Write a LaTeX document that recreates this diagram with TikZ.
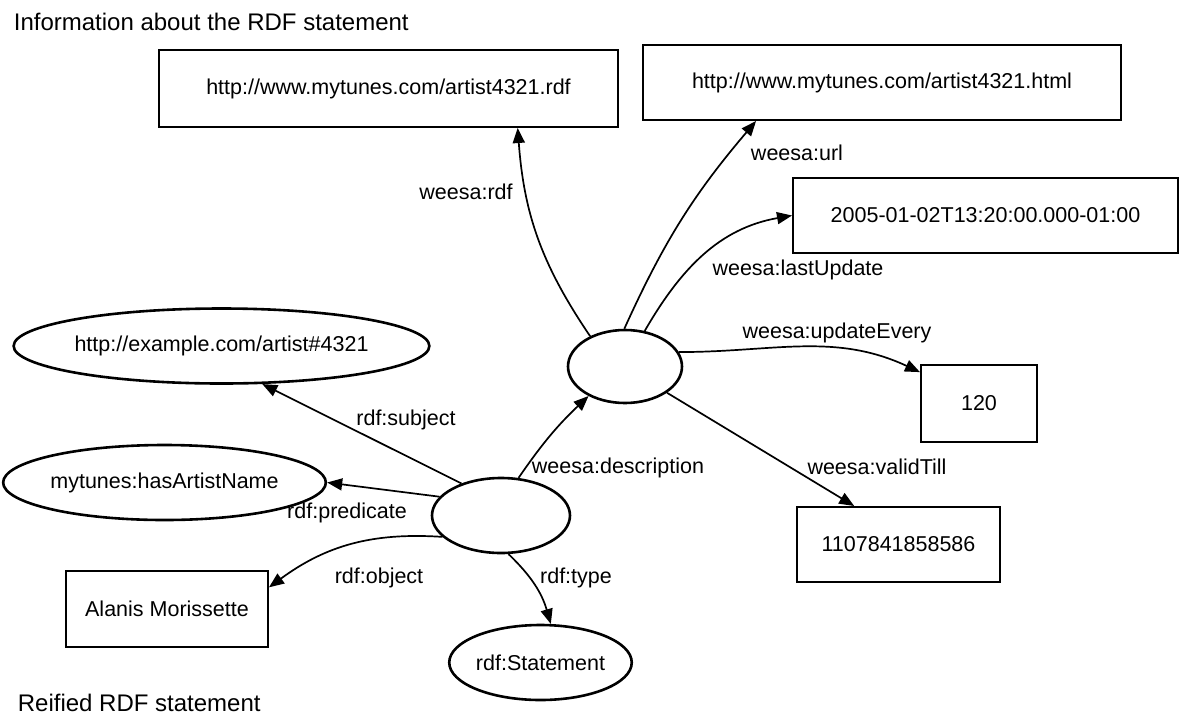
\documentclass[tikz,border=0pt]{standalone}
\usepackage{fontspec}
\setmainfont{Liberation Sans}
\usepackage{tikz}
\usetikzlibrary{positioning}
\usetikzlibrary{arrows.meta}
\usetikzlibrary{shapes.geometric}
\tikzset{
  box/.style      = { rectangle, inner sep=0pt },
  border/.style   = { line width=1pt, draw=black },
  oval/.style     = { ellipse, inner sep=0pt, line width=1.3pt, draw=black },
  small/.style    = { font=\fontsize{10.75}{12}\selectfont },
}
\tikzset{
  literal/.style  = { box, border, small },
  resource/.style = { oval, small },
  blank/.style    = { oval },
  property/.style = { small, inner sep=0pt },
  caption/.style  = { font=\fontsize{12}{14}\selectfont, inner sep=0pt, anchor=west },
}
\begin{document}
\begin{tikzpicture}[
  x=0.5pt,y=-0.5pt,
  >={Triangle[length=7.5pt,width=6pt]},line width=0.85pt
]
  \useasboundingbox (0,0) rectangle (1180,719);

  \node (info)    [caption] at (13,22)  {Information about the RDF statement};
  \node (reified) [caption] at (17,703) {Reified RDF statement};

  % information about the statement
  \node (rdf)     [literal,minimum width=229.5pt,minimum height=38.5pt] at (388.5,88.5) {http://www.mytunes.com/artist4321.rdf};
  \node (html)    [literal,minimum width=239pt,minimum height=37.5pt]   at (882,82.5)   {http://www.mytunes.com/artist4321.html};
  \node (update)  [literal,minimum width=192.5pt,minimum height=37.5pt] at (985.5,215.5) {2005-01-02T13:20:00.000-01:00};
  \node (every)   [literal,minimum width=58pt,minimum height=38.5pt]    at (979,403.5)  {120};
  \node (valid)   [literal,minimum width=101.5pt,minimum height=37.5pt] at (898.5,544.5) {1107841858586};
  \node (desc)    [blank,minimum width=57pt,minimum height=36.5pt]      at (625,366.5)  {};

  % reified statement
  \node (subject) [resource,minimum width=188.5pt,minimum height=37.5pt] at (221.5,346)  {http://example.com/artist\#4321};
  \node (pred)    [resource,minimum width=139.5pt,minimum height=37.5pt] at (164.5,482.5) {mytunes:hasArtistName};
  \node (object)  [literal,minimum width=101pt,minimum height=38pt]     at (167,609)    {Alanis Morissette};
  \node (type)    [resource,minimum width=81.5pt,minimum height=37.5pt] at (540.5,662.5) {rdf:Statement};
  \node (stmt)    [blank,minimum width=69pt,minimum height=37.5pt]      at (501,515.5)  {};

  \draw [->] (stmt.141) -- (subject.317);
  \draw [->] (stmt.163) -- (pred.0);
  \draw [->] (stmt.200) to[bend right=20] (object.12);
  \draw [->] (stmt.281) to[bend left=15] (type.75);
  \draw [->] (stmt.65)  to[bend left=6] (desc.219);

  \draw [->] (desc.139) to[bend left=15] (rdf.343);
  \draw [->] (desc.91)  to[bend left=8] (html.197);
  \draw [->] (desc.61)  to[out=60,in=190] (update.west);
  \draw [->] (desc.15)  to[out=0,in=155] (every.152);
  \draw [->] (desc.328) -- (valid.139);

  \node (lsubject) [property] at (406,420) {rdf:subject};
  \node (lpred)    [property] at (347,513) {rdf:predicate};
  \node (lobject)  [property] at (379,578) {rdf:object};
  \node (ltype)    [property] at (576,578) {rdf:type};
  \node (ldesc)    [property] at (618,468) {weesa:description};
  \node (lrdf)     [property] at (466,192) {weesa:rdf};
  \node (lurl)     [property] at (797,153) {weesa:url};
  \node (lupdate)  [property] at (798,270) {weesa:lastUpdate};
  \node (levery)   [property] at (837,333) {weesa:updateEvery};
  \node (lvalid)   [property] at (877,467) {weesa:validTill};
\end{tikzpicture}
\end{document}
